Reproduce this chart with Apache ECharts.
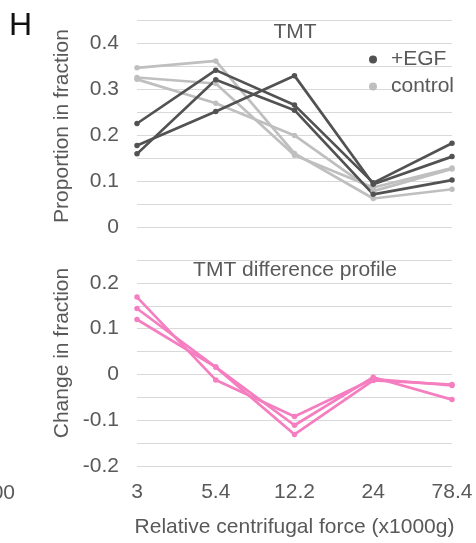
<!DOCTYPE html>
<html>
<head>
<meta charset="utf-8">
<script src="https://cdn.jsdelivr.net/npm/echarts@6/dist/echarts.min.js"></script>
<style>
  html, body { margin: 0; padding: 0; background: #fff; }
  #chart { width: 476px; height: 543px; }
</style>
</head>
<body>
<div id="chart"></div>
<script>
// x categories (relative centrifugal force, x1000g)
const categories = ['3', '5.4', '12.2', '24', '78.4'];

// TMT proportion profiles
const egf1 = [0.225, 0.341, 0.265, 0.096, 0.182];
const egf2 = [0.159, 0.320, 0.254, 0.071, 0.102];
const egf3 = [0.177, 0.251, 0.329, 0.093, 0.153];
const ctrl1 = [0.346, 0.361, 0.160, 0.062, 0.082];
const ctrl2 = [0.325, 0.312, 0.156, 0.086, 0.128];
const ctrl3 = [0.321, 0.269, 0.199, 0.078, 0.126];

// TMT difference profile
const diff1 = [0.169, -0.012, -0.092, -0.010, -0.024];
const diff2 = [0.144, 0.016, -0.111, -0.006, -0.055];
const diff3 = [0.120, 0.016, -0.131, -0.013, -0.022];

const FONT = 'Liberation Sans';
const TXT = '#595959';
const DARK = '#525252';
const LIGHT = '#bfbfbf';
const PINK = '#f57ec0';

let chartInstance = echarts.init(document.getElementById('chart'));

// only show labels on 0.1 steps
const tenths = (v) => {
  let t = v * 10;
  if (Math.abs(t - Math.round(t)) > 1e-6) return '';
  return String(Math.round(t) / 10);
};

const yAxisBase = {
  type: 'value',
  interval: 0.05,
  axisLine: { show: false },
  axisTick: { show: false },
  axisLabel: { color: TXT, fontSize: 21, fontFamily: FONT, margin: 18, formatter: tenths },
  splitLine: { lineStyle: { color: '#d9d9d9', width: 1.2 } },
};

const line = (name, data, color, idx) => ({
  name: name,
  type: 'line',
  xAxisIndex: idx,
  yAxisIndex: idx,
  data: data,
  symbol: 'circle',
  symbolSize: 5.5,
  lineStyle: { color: color, width: 2.7 },
  itemStyle: { color: color },
  emphasis: { disabled: true },
});

const option = {
  animation: false,
  title: [
    {
      text: 'TMT', left: 295, top: 22, textAlign: 'center', padding: 0,
      textStyle: { color: TXT, fontSize: 21, fontWeight: 'normal', fontFamily: FONT },
    },
    {
      text: 'TMT difference profile', left: 295, top: 260, textAlign: 'center', padding: 0,
      textStyle: { color: TXT, fontSize: 21, fontWeight: 'normal', fontFamily: FONT },
    },
  ],
  legend: {
    data: ['+EGF', 'control'],
    orient: 'vertical',
    left: 364,
    top: 44,
    icon: 'circle',
    itemWidth: 8,
    itemHeight: 8,
    itemGap: 6,
    textStyle: { color: TXT, fontSize: 21, fontFamily: FONT, lineHeight: 21, padding: [0, 0, 0, 9] },
  },
  grid: [
    { left: 137, right: 24, top: 20, height: 207 },
    { left: 137, right: 24, top: 260, height: 206 },
  ],
  xAxis: [
    {
      type: 'category', gridIndex: 0, data: categories, boundaryGap: false,
      axisLine: { show: false }, axisTick: { show: false }, axisLabel: { show: false },
      splitLine: { show: false },
    },
    {
      type: 'category', gridIndex: 1, data: categories, boundaryGap: false,
      axisLine: { show: false }, axisTick: { show: false },
      axisLabel: { color: TXT, fontSize: 21, fontFamily: FONT, margin: 16, interval: 0 },
      splitLine: { show: false },
      name: 'Relative centrifugal force (x1000g)',
      nameLocation: 'middle',
      nameGap: 51,
      nameTextStyle: { color: TXT, fontSize: 21, fontFamily: FONT, verticalAlign: 'top' },
    },
  ],
  yAxis: [
    Object.assign({}, yAxisBase, { gridIndex: 0, min: 0, max: 0.45 }),
    Object.assign({}, yAxisBase, { gridIndex: 1, min: -0.2, max: 0.25 }),
  ],
  graphic: [
    {
      type: 'text', left: 9, top: 10,
      style: { text: 'H', fontSize: 32, fontFamily: FONT, fill: '#111' },
    },
    {
      type: 'text', x: 62, y: 126, rotation: Math.PI / 2,
      style: { text: 'Proportion in fraction', fontSize: 21, fontFamily: FONT, fill: TXT, align: 'center', verticalAlign: 'middle' },
    },
    {
      type: 'text', x: 62, y: 353, rotation: Math.PI / 2,
      style: { text: 'Change in fraction', fontSize: 21, fontFamily: FONT, fill: TXT, align: 'center', verticalAlign: 'middle' },
    },
    {
      type: 'text', x: 15, y: 493,
      style: { text: '100', fontSize: 21, fontFamily: FONT, fill: TXT, align: 'right', verticalAlign: 'middle' },
    },
  ],
  series: [
    line('control', ctrl1, LIGHT, 0),
    line('control', ctrl2, LIGHT, 0),
    line('control', ctrl3, LIGHT, 0),
    line('+EGF', egf1, DARK, 0),
    line('+EGF', egf2, DARK, 0),
    line('+EGF', egf3, DARK, 0),
    line('diff', diff1, PINK, 1),
    line('diff', diff2, PINK, 1),
    line('diff', diff3, PINK, 1),
  ],
};

chartInstance.setOption(option);
</script>
</body>
</html>
